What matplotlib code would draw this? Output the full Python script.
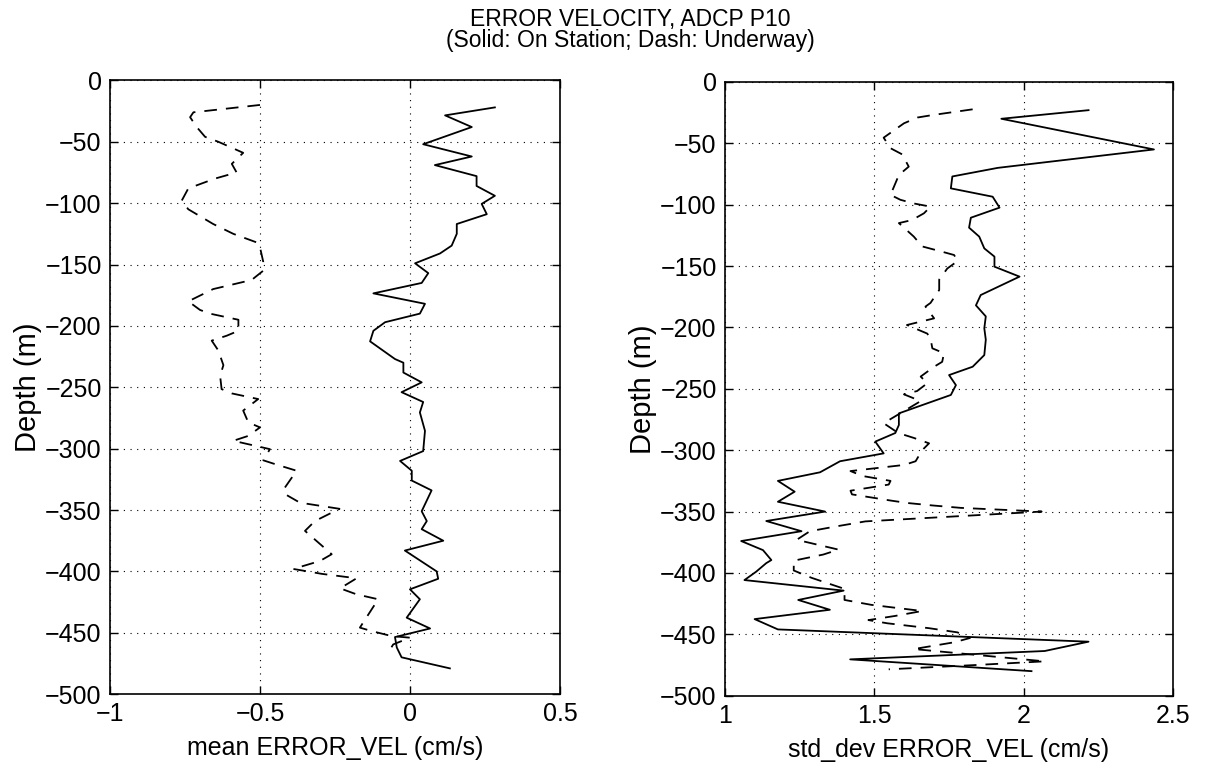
import matplotlib
matplotlib.use('Agg')
import matplotlib.pyplot as plt

plt.rcParams['font.family'] = ['Liberation Sans', 'DejaVu Sans']

# mean error velocity, on station (solid)
depth_mean_on = [-22, -28.5, -38, -52, -62, -69, -78, -86, -94, -100.6, -109, -117, -125, -134.6,
                 -141, -149, -157, -165, -173.5, -182, -190, -197, -204, -212.6, -227, -230, -238,
                 -246, -254, -262, -270.5, -285.5, -302, -310, -318, -326, -334, -351, -359, -365.6,
                 -375, -383, -400, -406, -414.6, -422.7, -437.7, -446.5, -453.5, -462, -470, -479]
mean_on = [0.283, 0.117, 0.206, 0.044, 0.206, 0.083, 0.222, 0.222, 0.283, 0.239, 0.256, 0.156, 0.156, 0.139,
           0.1, 0.017, 0.061, 0.039, -0.122, 0.05, 0.033, -0.083, -0.122, -0.133, -0.05, -0.022, -0.022,
           0.039, -0.028, 0.044, 0.033, 0.05, 0.044, -0.033, 0.006, 0.006, 0.072, 0.039, 0.056, 0.039,
           0.111, -0.017, 0.089, 0.094, 0.0, 0.033, -0.011, 0.067, -0.05, -0.044, -0.028, 0.133]

# mean error velocity, underway (dash)
depth_mean_uw = [-20, -26, -30, -38, -46, -50, -59, -68, -75, -80, -88, -98, -105, -117, -125, -132,
                 -136, -148, -155, -162.6, -170, -180, -187, -190, -195, -204, -208, -212, -220, -232,
                 -240.6, -251.5, -255, -259.6, -269, -278.6, -282.7, -289.6, -293.6, -300.4, -309.5,
                 -312.6, -318, -331.7, -337, -344, -349, -359, -367, -386, -391.5, -398, -402, -405.6,
                 -413.8, -418.7, -422.7, -445.8, -448.6, -452.7, -454, -459.5, -466]
mean_uw = [-0.5, -0.722, -0.733, -0.711, -0.683, -0.639, -0.556, -0.594, -0.578, -0.65, -0.739, -0.761,
           -0.739, -0.656, -0.589, -0.511, -0.5, -0.489, -0.489, -0.528, -0.656, -0.739, -0.7, -0.667,
           -0.572, -0.572, -0.611, -0.661, -0.639, -0.622, -0.633, -0.628, -0.594, -0.506, -0.556,
           -0.539, -0.5, -0.539, -0.589, -0.467, -0.489, -0.45, -0.378, -0.417, -0.417, -0.367, -0.235,
           -0.317, -0.35, -0.261, -0.3, -0.389, -0.294, -0.178, -0.233, -0.178, -0.106, -0.167, -0.128,
           -0.061, 0.0, -0.056, -0.072]

# std dev error velocity, on station (solid)
depth_std_on = [-23, -30, -55, -70, -77, -86.7, -93.5, -102.4, -110.6, -118.7, -126, -135.6, -142.3,
                -150.5, -158.6, -173.6, -182, -191, -200.7, -210, -222.5, -232, -238.8, -247, -255,
                -261.8, -270, -279.5, -286, -293, -302.6, -309, -318, -325, -333.8, -342, -350, -357.7,
                -366, -374, -381.4, -389.5, -392, -399, -405.8, -414.4, -422, -430, -437.6, -446, -456,
                -463.6, -470.4, -480]
std_on = [2.217, 1.925, 2.436, 1.913, 1.761, 1.756, 1.896, 1.919, 1.823, 1.817, 1.851, 1.868, 1.902,
          1.902, 1.986, 1.856, 1.84, 1.873, 1.868, 1.873, 1.868, 1.829, 1.75, 1.773, 1.756,
          1.677, 1.582, 1.582, 1.57, 1.503, 1.531, 1.385, 1.318, 1.177, 1.233, 1.177, 1.335, 1.138,
          1.256, 1.054, 1.127, 1.155, 1.138, 1.104, 1.065, 1.397, 1.245, 1.351, 1.099, 1.177, 2.217,
          2.07, 1.419, 2.026]

# std dev error velocity, underway (dash)
depth_std_uw = [-22.3, -27, -29, -33.7, -45.4, -54, -59, -69, -75.8, -92, -96, -99, -101.6, -107, -112.5,
                -115, -126, -134, -138, -141, -146, -152, -161, -169.5, -180, -183, -192.6, -198, -205,
                -209, -217, -221, -228, -232, -240, -245.5, -251.8, -254.5, -260, -278, -286, -290,
                -294.4, -300, -309, -312, -317, -321, -325, -328, -333, -336, -341, -343, -345, -347,
                -350, -358, -362, -366, -373, -381, -385, -390, -398, -404, -413, -422, -426, -431, -435,
                -438.4, -441, -445, -448.4, -453, -456.5, -462, -472, -475, -478.5]
std_uw = [1.829, 1.694, 1.644, 1.599, 1.531, 1.554, 1.593, 1.615, 1.582, 1.554, 1.587, 1.632, 1.688,
          1.666, 1.626, 1.582, 1.632, 1.66, 1.722, 1.767, 1.778, 1.744, 1.717, 1.717, 1.688, 1.671, 1.7,
          1.609, 1.677, 1.688, 1.694, 1.733, 1.727, 1.7, 1.655, 1.677, 1.643, 1.599, 1.655, 1.531,
          1.58, 1.632, 1.683, 1.66, 1.638, 1.6, 1.42, 1.46, 1.554, 1.548, 1.42, 1.425, 1.554, 1.61,
          1.694, 1.79, 2.06, 1.47, 1.374, 1.284, 1.24, 1.38, 1.329, 1.23, 1.23, 1.29, 1.40, 1.40, 1.49,
          1.66, 1.57, 1.48, 1.543, 1.683, 1.778, 1.82, 1.767, 1.632, 2.07, 1.84, 1.548]

yticks = list(range(0, -501, -50))
left_xticks = [-1, -0.5, 0, 0.5]
left_xlabels = ['\u22121', '\u22120.5', '0', '0.5']
right_xticks = [1, 1.5, 2, 2.5]
right_xlabels = ['1', '1.5', '2', '2.5']

fig = plt.figure(figsize=(12.05, 7.73), dpi=100)
ax1 = fig.add_axes([0.0913, 0.102, 0.3734, 0.794])
ax2 = fig.add_axes([0.6017, 0.100, 0.3718, 0.794])

dash = (0, (7, 5))
ax1.plot(mean_on, depth_mean_on, color='black', lw=1.3)
ax1.plot(mean_uw, depth_mean_uw, color='black', lw=1.3, linestyle=dash)
ax2.plot(std_on, depth_std_on, color='black', lw=1.3)
ax2.plot(std_uw, depth_std_uw, color='black', lw=1.3, linestyle=dash)

for ax, xt, xl, lim in [(ax1, left_xticks, left_xlabels, (-1, 0.5)),
                        (ax2, right_xticks, right_xlabels, (1, 2.5))]:
    ax.set_xlim(*lim)
    ax.set_ylim(-500, 0)
    ax.set_xticks(xt)
    ax.set_xticklabels(xl)
    ax.set_yticks(yticks)
    ax.set_yticklabels([('\u2212%d' % -v) if v < 0 else '0' for v in yticks])
    ax.grid(True, color='black', linestyle=(0, (1, 5)), linewidth=0.8)
    ax.tick_params(direction='in', top=True, right=True, length=6, width=1, labelsize=18, pad=6)
    for s in ax.spines.values():
        s.set_linewidth(1.2)
    ax.set_ylabel('Depth (m)', fontsize=21, labelpad=2)

ax1.set_xlabel('mean ERROR_VEL (cm/s)', fontsize=18, labelpad=7)
ax2.set_xlabel('std_dev ERROR_VEL (cm/s)', fontsize=18, labelpad=7)

fig.text(0.523, 0.975, 'ERROR VELOCITY, ADCP P10', ha='center', va='center', fontsize=16.5)
fig.text(0.523, 0.947, '(Solid: On Station; Dash: Underway)', ha='center', va='center', fontsize=16.5)

fig.savefig('out.png', dpi=100)
